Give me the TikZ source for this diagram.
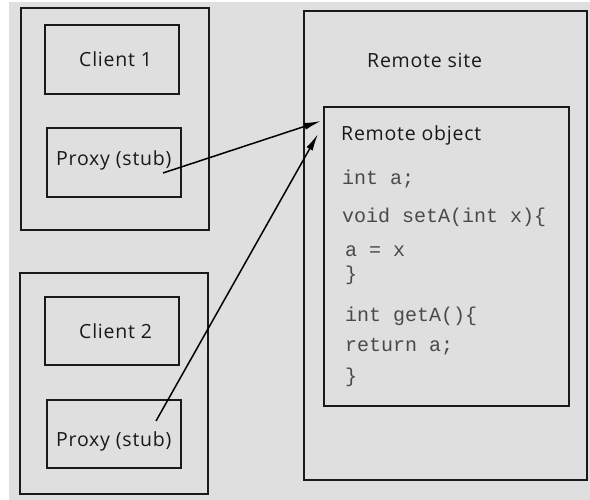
\documentclass[tikz,border=0pt]{standalone}
\usepackage{fontspec}
\setmainfont{Open Sans}[LetterSpace=4]
\newfontfamily\codefont{Liberation Mono}
\usetikzlibrary{arrows.meta}
\definecolor{bggray}{HTML}{DFDFDF}
\definecolor{edge}{HTML}{1A1A1A}
\definecolor{codegray}{HTML}{4A4A4A}
\begin{document}
\begin{tikzpicture}[x=1pt,y=-1pt,
  box/.style={draw=edge,line width=2pt,inner sep=0pt,anchor=north west},
  lbl/.style={anchor=base west,inner sep=0pt,font=\fontsize{19.5}{21}\selectfont,text=black!90},
  code/.style={anchor=base west,inner sep=0pt,font=\codefont\fontsize{20}{21}\selectfont,text=codegray},
  conn/.style={draw=black,line width=1.5pt,-{Latex[length=17pt,width=7pt]}}]
\useasboundingbox (0,0) rectangle (590,500);
\fill[bggray] (9,2) rectangle (590,500);
% client 1
\node[box,minimum width=188pt,minimum height=222pt] (c1) at (20,7) {};
\node[box,minimum width=134pt,minimum height=69pt] (c1in) at (44,24) {};
\node[box,minimum width=134pt,minimum height=69pt] (p1) at (46,127) {};
\node[lbl] (t1) at (79,67) {Client 1};
\node[lbl] (tp1) at (56,166) {Proxy (stub)};
% client 2
\node[box,minimum width=188pt,minimum height=221pt] (c2) at (19,272) {};
\node[box,minimum width=134pt,minimum height=68pt] (c2in) at (44,296) {};
\node[box,minimum width=134pt,minimum height=68pt] (p2) at (46,399) {};
\node[lbl] (t2) at (79,338) {Client 2};
\node[lbl] (tp2) at (56,446) {Proxy (stub)};
% remote site
\node[box,minimum width=283pt,minimum height=469pt] (rs) at (303,10) {};
\node[lbl] (trs) at (367,68) {Remote site};
\node[box,minimum width=245pt,minimum height=299pt] (ro) at (323,106) {};
\node[lbl] (tro) at (341,141) {Remote object};
\node[code] (k1) at (342,185) {int a;};
\node[code] (k2) at (342,223) {void setA(int x)\{};
\node[code] (k3) at (345,257) {a = x};
\node[code] (k4) at (345,281) {\}};
\node[code] (k5) at (345,322) {int getA()\{};
\node[code] (k6) at (345,352) {return a;};
\node[code] (k7) at (345,382) {\}};
% connectors
\coordinate (s1) at (163,173);
\coordinate (s2) at (156,421);
\coordinate (e1) at (321,121);
\coordinate (e2) at (318,134);
\draw[conn] (s1) -- (e1);
\draw[conn] (s2) -- (e2);
\end{tikzpicture}
\end{document}
